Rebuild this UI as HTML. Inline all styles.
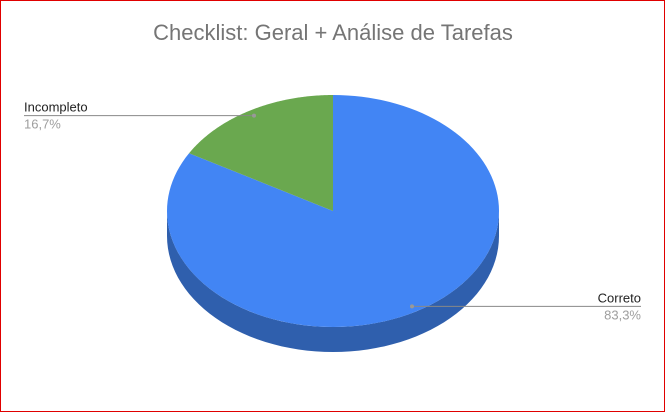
<!DOCTYPE html>
<html><head><meta charset="utf-8"><style>
html,body{margin:0;padding:0;background:#fff;}
svg{display:block;font-family:"Liberation Sans",Arial,sans-serif;}
</style></head><body>
<svg width="665" height="412" viewBox="0 0 665 412">
<rect x="0.5" y="0.5" width="664" height="411" fill="#fff" stroke="#e00000" stroke-width="1"/>
<text x="333" y="40" text-anchor="middle" font-size="22" fill="#757575">Checklist: Geral + Análise de Tarefas</text>
<g id="pie"></g>
<g id="labels"></g>
</svg>
<script>
const categories = ["Correto", "Incompleto"];
const values = [83.3, 16.7];
const valueLabels = ["83,3%", "16,7%"];
const colors = ["#4285f4", "#6aa84f"];
const sideColors = ["#2f5fad", "#4a7a37"];
const cx = 333, cy = 211, rx = 166, ry = 116, depth = 25;
const NS = "http://www.w3.org/2000/svg";
const pie = document.getElementById("pie");
const labels = document.getElementById("labels");
const total = values.reduce((a, b) => a + b, 0);
function pt(a, dy) { return [cx + rx * Math.sin(a), cy - ry * Math.cos(a) + (dy || 0)]; }
let start = 0;
const slices = values.map((v, i) => { const s = start, e = start + v / total * 2 * Math.PI; start = e; return { s, e, i }; });
slices.forEach(sl => {
  const a0 = Math.max(sl.s, Math.PI / 2), a1 = Math.min(sl.e, 3 * Math.PI / 2);
  if (a1 <= a0) return;
  let d = "";
  const n = 60;
  for (let k = 0; k <= n; k++) { const p = pt(a0 + (a1 - a0) * k / n); d += (k ? "L" : "M") + p[0].toFixed(2) + "," + p[1].toFixed(2); }
  for (let k = n; k >= 0; k--) { const p = pt(a0 + (a1 - a0) * k / n, depth); d += "L" + p[0].toFixed(2) + "," + p[1].toFixed(2); }
  const path = document.createElementNS(NS, "path");
  path.setAttribute("d", d + "Z");
  path.setAttribute("fill", sideColors[sl.i]);
  
  
  pie.appendChild(path);
});
slices.forEach(sl => {
  let d = "M" + cx + "," + cy;
  const n = 120;
  for (let k = 0; k <= n; k++) { const p = pt(sl.s + (sl.e - sl.s) * k / n); d += "L" + p[0].toFixed(2) + "," + p[1].toFixed(2); }
  const path = document.createElementNS(NS, "path");
  path.setAttribute("d", d + "Z");
  path.setAttribute("fill", colors[sl.i]);
  
  
  pie.appendChild(path);
});
slices.forEach(sl => {
  const mid = (sl.s + sl.e) / 2;
  const p = [cx + rx * 0.95 * Math.sin(mid), cy - ry * 0.95 * Math.cos(mid)];
  const right = Math.sin(mid) > 0;
  const lx = right ? 641 : 24;
  const ly = p[1];
  const line = document.createElementNS(NS, "line");
  line.setAttribute("x1", p[0]); line.setAttribute("y1", ly);
  line.setAttribute("x2", lx); line.setAttribute("y2", ly);
  line.setAttribute("stroke", "#888"); line.setAttribute("stroke-width", "1");
  
  
  labels.appendChild(line);
  const dot = document.createElementNS(NS, "circle");
  dot.setAttribute("cx", p[0]); dot.setAttribute("cy", ly); dot.setAttribute("r", 2);
  dot.setAttribute("fill", "#999");
  
  
  labels.appendChild(dot);
  const t1 = document.createElementNS(NS, "text");
  t1.setAttribute("x", lx); t1.setAttribute("y", ly - 4);
  t1.setAttribute("text-anchor", right ? "end" : "start");
  t1.setAttribute("font-size", "13"); t1.setAttribute("fill", "#222");
  t1.textContent = categories[sl.i];
  
  
  labels.appendChild(t1);
  const t2 = document.createElementNS(NS, "text");
  t2.setAttribute("x", lx); t2.setAttribute("y", ly + 13);
  t2.setAttribute("text-anchor", right ? "end" : "start");
  t2.setAttribute("font-size", "13"); t2.setAttribute("fill", "#9e9e9e");
  t2.textContent = valueLabels[sl.i];
  
  
  labels.appendChild(t2);
});
</script>
</body></html>
